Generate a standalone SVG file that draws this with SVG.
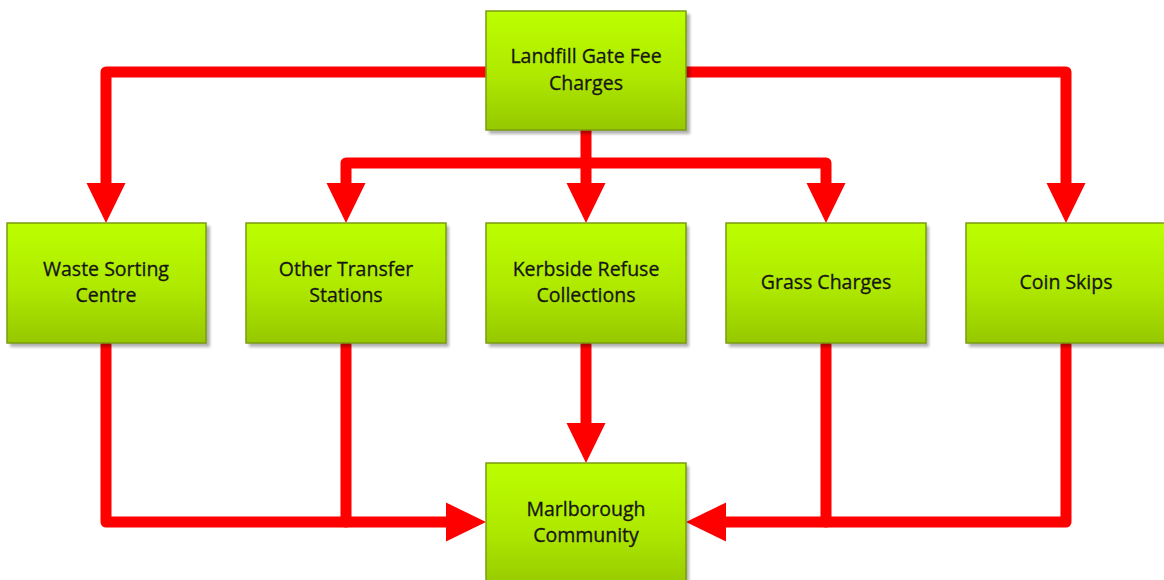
<svg xmlns="http://www.w3.org/2000/svg" width="1164" height="580" viewBox="0 0 1164 580">
<defs>
<linearGradient id="g" x1="0" y1="0" x2="0" y2="1">
<stop offset="0" stop-color="#BCFF00"/>
<stop offset="0.55" stop-color="#AEE800"/>
<stop offset="1" stop-color="#96C800"/>
</linearGradient>
<marker id="ah" markerUnits="userSpaceOnUse" markerWidth="42" markerHeight="42" viewBox="0 -21 42 42" refX="0" refY="0" orient="auto">
<path d="M0,-19.5 L40,0 L0,19.5 Z" fill="#FF0000"/>
</marker>
<filter id="bl" x="-10%" y="-10%" width="120%" height="120%"><feGaussianBlur stdDeviation="1.5"/></filter>
</defs>
<style>
.box{fill:url(#g);stroke:#7A9C10;stroke-width:1.5}
.sh{fill:#000;opacity:0.3}
.t{font-family:"Open Sans","Liberation Sans",sans-serif;font-size:19.5px;fill:#151515;stroke:#151515;stroke-width:0.3;text-anchor:middle}
.c{fill:none;stroke:#FF0000;stroke-width:11;stroke-linecap:round;stroke-linejoin:round}
</style>
<rect width="1164" height="580" fill="#FFFFFF"/>
<g id="connectors">
<path class="c" d="M486,72 H106 V183" marker-end="url(#ah)"/>
<path class="c" d="M686,72 H1066 V183" marker-end="url(#ah)"/>
<path class="c" d="M586,131 V183" marker-end="url(#ah)"/>
<path class="c" d="M586,163 H346 V183" marker-end="url(#ah)"/>
<path class="c" d="M586,163 H826 V183" marker-end="url(#ah)"/>
<path class="c" d="M106,345 V522 H446" marker-end="url(#ah)"/>
<path class="c" d="M346,345 V522"/>
<path class="c" d="M586,345 V423" marker-end="url(#ah)"/>
<path class="c" d="M1066,345 V522 H726" marker-end="url(#ah)"/>
<path class="c" d="M826,345 V522"/>
</g>
<g id="landfill">
<rect class="sh" x="489" y="14" width="201" height="120" filter="url(#bl)"/>
<rect class="box" x="486" y="11" width="200" height="119"/>
<text class="t" x="586" y="63">Landfill Gate Fee</text>
<text class="t" x="586" y="90">Charges</text>
</g>
<g id="waste">
<rect class="sh" x="10" y="226" width="200" height="121" filter="url(#bl)"/>
<rect class="box" x="7" y="223" width="199" height="120"/>
<text class="t" x="106" y="276">Waste Sorting</text>
<text class="t" x="106" y="302">Centre</text>
</g>
<g id="transfer">
<rect class="sh" x="249" y="226" width="200" height="121" filter="url(#bl)"/>
<rect class="box" x="246" y="223" width="200" height="120"/>
<text class="t" x="346" y="276">Other Transfer</text>
<text class="t" x="346" y="302">Stations</text>
</g>
<g id="kerbside">
<rect class="sh" x="489" y="226" width="200" height="121" filter="url(#bl)"/>
<rect class="box" x="486" y="223" width="200" height="120"/>
<text class="t" x="586" y="276">Kerbside Refuse</text>
<text class="t" x="586" y="302">Collections</text>
</g>
<g id="grass">
<rect class="sh" x="729" y="226" width="200" height="121" filter="url(#bl)"/>
<rect class="box" x="726" y="223" width="200" height="120"/>
<text class="t" x="826" y="289">Grass Charges</text>
</g>
<g id="coin">
<rect class="sh" x="969" y="226" width="200" height="121" filter="url(#bl)"/>
<rect class="box" x="966" y="223" width="200" height="120"/>
<text class="t" x="1066" y="289">Coin Skips</text>
</g>
<g id="marlborough">
<rect class="sh" x="489" y="466" width="200" height="121" filter="url(#bl)"/>
<rect class="box" x="486" y="463" width="200" height="125"/>
<text class="t" x="586" y="516">Marlborough</text>
<text class="t" x="586" y="542">Community</text>
</g>
</svg>
